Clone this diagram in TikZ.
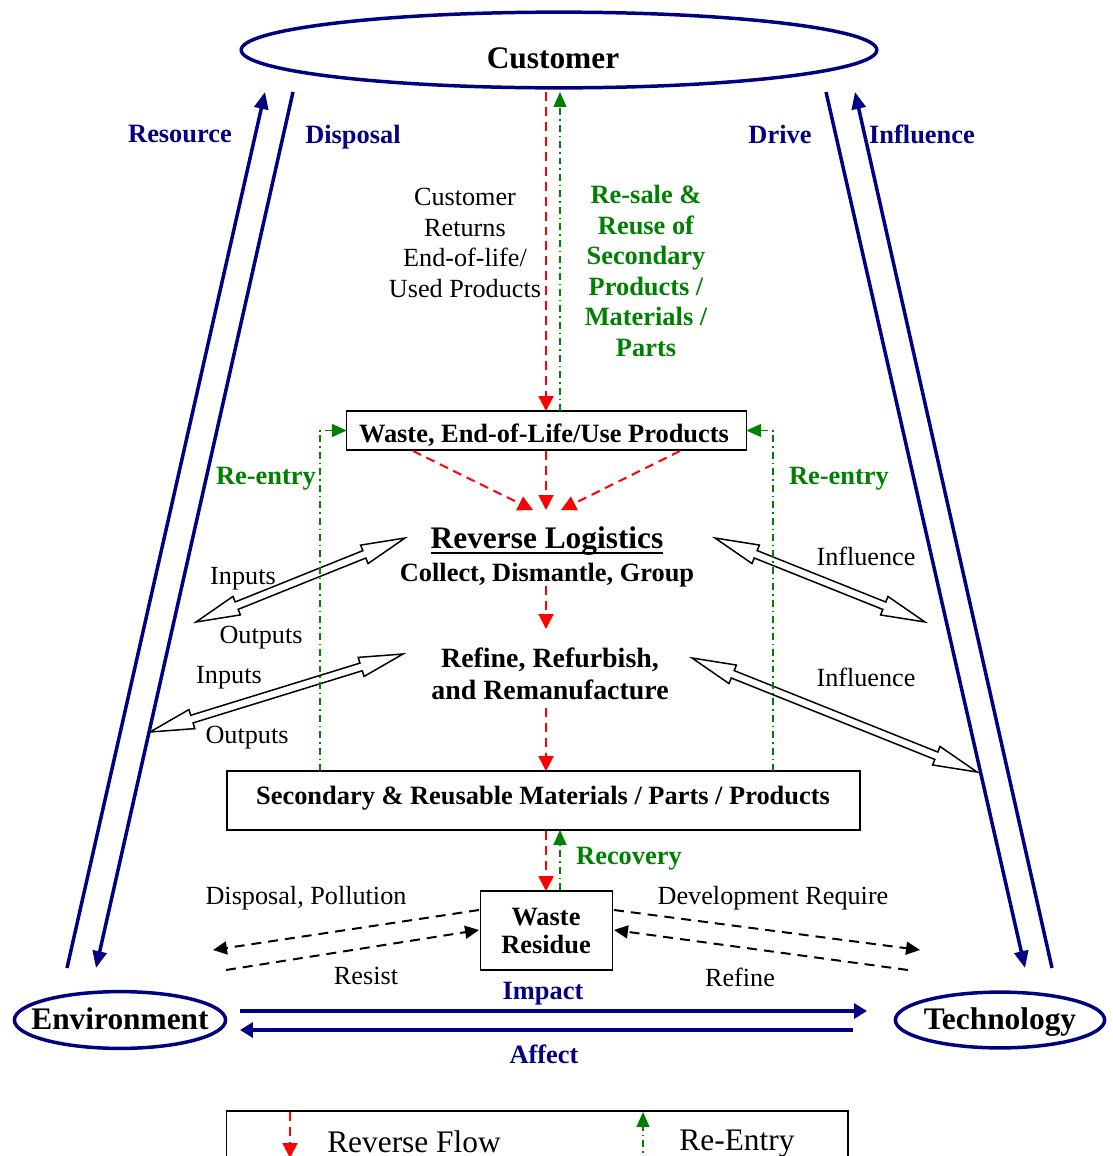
\documentclass[tikz,border=0pt]{standalone}
\usepackage{fontspec}
\setmainfont{Liberation Serif}
\usetikzlibrary{arrows.meta,shapes.geometric,calc}
\definecolor{navy}{RGB}{0,0,128}
\definecolor{rgreen}{RGB}{0,128,0}
\definecolor{rred}{RGB}{255,0,0}

% open double-headed block arrow between two named points
\newcommand\hollowdbl[2]{%
  \draw[hollow] (#1)
   -- ($(#1)!44pt!(#2)!10pt!90:(#2)$)
   -- ($(#1)!44pt!(#2)!4pt!90:(#2)$)
   -- ($(#2)!44pt!(#1)!4pt!-90:(#1)$)
   -- ($(#2)!44pt!(#1)!10pt!-90:(#1)$)
   -- (#2)
   -- ($(#2)!44pt!(#1)!10pt!90:(#1)$)
   -- ($(#2)!44pt!(#1)!4pt!90:(#1)$)
   -- ($(#1)!44pt!(#2)!4pt!-90:(#2)$)
   -- ($(#1)!44pt!(#2)!10pt!-90:(#2)$)
   -- cycle;}

\begin{document}
\begin{tikzpicture}[x=1bp,y=-1bp,
  every node/.style={inner sep=0pt, outer sep=0pt},
  bigtxt/.style={font=\fontsize{31.5}{36}\selectfont\bfseries},
  txt/.style={font=\fontsize{26.3}{30.7}\selectfont, align=center},
  btxt/.style={font=\fontsize{26.5}{30.7}\selectfont\bfseries, align=center},
  navytxt/.style={btxt, text=navy},
  greentxt/.style={btxt, text=rgreen},
  legtxt/.style={font=\fontsize{31.5}{36}\selectfont},
  actor/.style={ellipse, draw=navy, line width=3.5pt},
  boxed/.style={draw, line width=1.4pt, fill=white},
  navyline/.style={navy, line width=3.5pt},
  navyarrow/.style={navyline, -{Triangle[length=17pt,width=14pt]}},
  flowarrow/.style={navyline, -{Triangle[length=13pt,width=15pt]}},
  reverse/.style={rred, line width=2pt, dash pattern=on 9pt off 6pt, -{Triangle[length=15pt,width=15pt]}},
  reentry/.style={rgreen, line width=1.5pt, dash pattern=on 7pt off 4pt on 1.5pt off 4pt, -{Triangle[length=15pt,width=13pt]}},
  blackdash/.style={line width=2pt, dash pattern=on 10pt off 7pt, -{Triangle[length=14pt,width=13pt]}},
  hollow/.style={draw, line width=1.5pt, fill=white, line join=miter},
]
\useasboundingbox (0,0) rectangle (1113,1156);

% ---------- actors ----------
\node[actor, minimum width=638pt, minimum height=76pt] (cust) at (559,50) {};
\node[bigtxt] (custtxt) at (553,58) {Customer};
\node[actor, minimum width=212pt, minimum height=57pt] (env) at (120,1020) {};
\node[bigtxt] (envtxt) at (120,1019) {Environment};
\node[actor, minimum width=210pt, minimum height=56pt] (tech) at (1000,1020) {};
\node[bigtxt] (techtxt) at (1000,1022) {Technology};

% ---------- boxes ----------
\node[boxed, minimum width=401pt, minimum height=39pt] (waste) at (546.5,430.5) {};
\node[btxt] (wastetxt) at (544,435) {Waste, End-of-Life/Use Products};
\node[boxed, minimum width=635pt, minimum height=59pt] (sec) at (543.5,800.5) {};
\node[btxt] (sectxt) at (543,798) {Secondary \& Reusable Materials / Parts / Products};
\node[boxed, minimum width=133pt, minimum height=79pt] (res) at (546.5,930.5) {};
\node[btxt, font=\fontsize{26.5}{29}\selectfont\bfseries] (restxt) at (546,931) {Waste\\Residue};

% ---------- process texts ----------
\node[font=\fontsize{31.5}{36}\selectfont\bfseries] (rl) at (547,541) {Reverse Logistics};
\draw[line width=2.6pt] ($(rl.base west)+(0,4.5)$) -- ($(rl.base east)+(0,4.5)$);
\node[btxt] (collect) at (547,575) {Collect, Dismantle, Group};
\node[btxt, font=\fontsize{28}{32}\selectfont\bfseries] (refine) at (550,674) {Refine, Refurbish,\\and Remanufacture};

% ---------- labels ----------
\node[navytxt] (lres) at (180,134) {Resource};
\node[navytxt] (ldisp) at (353,137) {Disposal};
\node[navytxt] (ldrive) at (780,134) {Drive};
\node[navytxt] (linfl) at (922,134) {Influence};
\node[txt] (lreturns) at (465,243) {Customer\\Returns\\End-of-life/\\Used Products};
\node[greentxt] (lresale) at (646,271) {Re-sale \&\\Reuse of\\Secondary\\Products /\\Materials /\\Parts};
\node[greentxt] (lreL) at (266,479) {Re-entry};
\node[greentxt] (lreR) at (839,479) {Re-entry};
\node[txt] (lin1) at (243,579) {Inputs};
\node[txt] (lout1) at (261,638) {Outputs};
\node[txt] (lin2) at (229,678) {Inputs};
\node[txt] (lout2) at (247,738) {Outputs};
\node[txt] (linf1) at (866,556) {Influence};
\node[txt] (linf2) at (866,677) {Influence};
\node[greentxt] (lrec) at (629,859) {Recovery};
\node[txt] (ldp) at (306,898) {Disposal, Pollution};
\node[txt] (ldr) at (773,898) {Development Require};
\node[txt] (lresist) at (366,976) {Resist};
\node[txt] (lrefine) at (740,977) {Refine};
\node[navytxt] (limpact) at (543,994) {Impact};
\node[navytxt] (laffect) at (544,1054) {Affect};

% ---------- long navy links ----------
\coordinate (resA) at (67,968);   \coordinate (resB) at (265,92);
\coordinate (dispA) at (293,92);  \coordinate (dispB) at (96,968);
\coordinate (drvA) at (826,92);   \coordinate (drvB) at (1025,968);
\coordinate (infA) at (1052,968); \coordinate (infB) at (855,92);
\draw[navyarrow] (resA) -- (resB);
\draw[navyarrow] (dispA) -- (dispB);
\draw[navyarrow] (drvA) -- (drvB);
\draw[navyarrow] (infA) -- (infB);

\coordinate (impA) at (240,1011); \coordinate (impB) at (867,1011);
\coordinate (affA) at (853,1030); \coordinate (affB) at (240,1030);
\draw[flowarrow] (impA) -- (impB);
\draw[flowarrow] (affA) -- (affB);

% ---------- open double arrows ----------
\coordinate (io1a) at (196,622); \coordinate (io1b) at (405,538);
\coordinate (io2a) at (150,732); \coordinate (io2b) at (403,654);
\coordinate (if1a) at (715,538); \coordinate (if1b) at (925,622);
\coordinate (if2a) at (692,658); \coordinate (if2b) at (977,772);
\hollowdbl{io1a}{io1b}
\hollowdbl{io2a}{io2b}
\hollowdbl{if1a}{if1b}
\hollowdbl{if2a}{if2b}

% ---------- reverse flow (red) ----------
\coordinate (r0) at (546,92);
\draw[reverse] (r0) -- (waste.north -| r0);
\coordinate (wb1) at (413,451); \coordinate (wt1) at (533,510);
\coordinate (wb2) at (546,451); \coordinate (wt2) at (546,510);
\coordinate (wb3) at (680,451); \coordinate (wt3) at (561,510);
\draw[reverse] (wb1) -- (wt1);
\draw[reverse] (wb2) -- (wt2);
\draw[reverse] (wb3) -- (wt3);
\coordinate (rc1) at (546,586); \coordinate (rc2) at (546,629);
\draw[reverse] (rc1) -- (rc2);
\coordinate (rf1) at (546,708);
\draw[reverse] (rf1) -- (sec.north -| rf1);
\coordinate (rs) at (546,831);
\draw[reverse] (rs) -- (res.north -| rs);

% ---------- re-entry (green) ----------
\coordinate (g0) at (560,92);
\draw[reentry] (waste.north -| g0) -- (g0);
\coordinate (gs) at (560,890);
\draw[reentry] (gs) -- (sec.south -| gs);
\coordinate (lx) at (320,700);
\coordinate (rx) at (773,700);
\draw[reentry] (sec.north -| lx) |- (waste.west);
\draw[reentry] (sec.north -| rx) |- (waste.east);

% ---------- waste residue exchanges ----------
\coordinate (dp1) at (479,910); \coordinate (dp2) at (213,950);
\coordinate (rs1) at (226,970); \coordinate (rs2) at (479,930);
\coordinate (dv1) at (614,910); \coordinate (dv2) at (920,950);
\coordinate (rf3) at (908,970); \coordinate (rf4) at (614,930);
\draw[blackdash] (dp1) -- (dp2);
\draw[blackdash] (rs1) -- (rs2);
\draw[blackdash] (dv1) -- (dv2);
\draw[blackdash] (rf3) -- (rf4);

% ---------- legend ----------
\node[draw, line width=1.8pt, minimum width=624pt, minimum height=100pt, anchor=north west] (legend) at (226.5,1111) {};
\coordinate (lg1) at (290,1112); \coordinate (lg2) at (290,1158);
\draw[reverse] (lg1) -- (lg2);
\coordinate (lg3) at (643,1180); \coordinate (lg4) at (643,1112);
\draw[reentry] (lg3) -- (lg4);
\node[legtxt] (legrev) at (414,1142) {Reverse Flow};
\node[legtxt] (legre) at (737,1144) {Re-Entry};
\end{tikzpicture}
\end{document}
